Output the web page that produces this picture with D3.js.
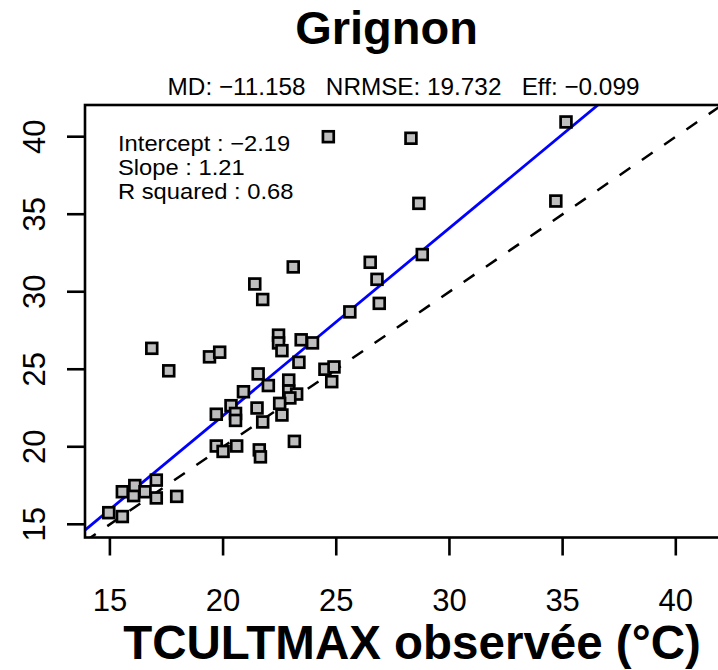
<!DOCTYPE html>
<html>
<head>
<meta charset="utf-8">
<script src="https://d3js.org/d3.v7.min.js"></script>
<style>
body, html {
    margin: 0;
    padding: 0;
    background: #fff;
    font-family: "Liberation Sans", Arial, sans-serif;
}
</style>
</head>
<body>
<div id="chart"></div>
<script>

var observed = [24.65, 28.3, 35.15, 28.65, 34.7, 28.8, 23.1, 21.4, 21.75, 26.5,
                26.8, 26.9, 25.6, 16.85, 17.6, 19.4, 19.85, 22.45, 22.45, 22.6,
                23.45, 23.95, 23.35, 24.5, 24.9, 24.8, 21.55, 22.0, 22.9, 22.9,
                23.25, 22.95, 20.9, 20.35, 20.55, 20.55, 19.7, 21.5, 22.5, 22.6,
                21.75, 23.15, 19.7, 20.0, 20.6, 21.6, 21.65, 15.55, 16.05, 16.1,
                16.55, 17.05, 17.05, 17.95, 14.95, 15.55];
var simulated = [40.0, 39.9, 40.95, 35.7, 35.85, 32.4, 31.6, 30.5, 29.5, 31.9,
                 30.8, 29.25, 28.7, 26.35, 24.9, 25.8, 26.1, 27.2, 26.7, 26.2,
                 26.9, 26.7, 25.45, 25.0, 25.15, 24.2, 24.7, 23.95, 24.3, 23.6,
                 23.4, 23.15, 23.55, 22.65, 22.15, 21.7, 22.1, 22.5, 22.8, 22.05,
                 21.6, 20.35, 20.05, 19.7, 20.05, 19.8, 19.35, 17.1, 16.85, 17.5,
                 17.1, 17.85, 16.7, 16.8, 15.75, 15.5];
var tickValues = [15, 20, 25, 30, 35, 40];
var title = "Grignon";
var stats = "MD: \u221211.158   NRMSE: 19.732   Eff: \u22120.099";
var regText = ["Intercept : \u22122.19", "Slope : 1.21", "R squared : 0.68"];
var intercept = -2.19, slope = 1.21;
var xLabel = "TCULTMAX observée (°C)";

var width = 718, height = 670;
var box = {left: 85, right: 722, top: 105, bottom: 537.5};

var svg = d3.select("#chart").append("svg")
    .attr("width", width)
    .attr("height", height);

var x = d3.scaleLinear().domain([15, 40]).range([109.9, 675.8]);
var y = d3.scaleLinear().domain([15, 40]).range([524.3, 136.7]);

svg.append("clipPath").attr("id", "plotclip")
  .append("rect")
    .attr("x", box.left).attr("y", box.top)
    .attr("width", box.right - box.left).attr("height", box.bottom - box.top);

var plot = svg.append("g").attr("clip-path", "url(#plotclip)");

var x0 = x.invert(box.left), x1 = x.invert(box.right);

// 1:1 line
plot.append("line")
    .attr("x1", x(x0)).attr("y1", y(x0))
    .attr("x2", x(x1)).attr("y2", y(x1))
    .attr("stroke", "#000")
    .attr("stroke-width", 2.5)
    .attr("stroke-dasharray", "13,14");

// regression line
plot.append("line")
    .attr("x1", x(x0)).attr("y1", y(intercept + slope * x0))
    .attr("x2", x(x1)).attr("y2", y(intercept + slope * x1))
    .attr("stroke", "#0000ff")
    .attr("stroke-width", 2.8);

var pts = observed.map(function(d, i) { return [d, simulated[i]]; });
var s = 10.8;
plot.selectAll("rect.pt")
    .data(pts)
  .enter().append("rect")
    .attr("class", "pt")
    .attr("x", function(d) { return x(d[0]) - s / 2; })
    .attr("y", function(d) { return y(d[1]) - s / 2; })
    .attr("width", s).attr("height", s)
    .attr("fill", "#bebebe")
    .attr("stroke", "#000")
    .attr("stroke-width", 2.7);

// plot box
svg.append("rect")
    .attr("x", box.left).attr("y", box.top)
    .attr("width", box.right - box.left).attr("height", box.bottom - box.top)
    .attr("fill", "none")
    .attr("stroke", "#000")
    .attr("stroke-width", 2.6);

// x axis
var xAxis = svg.append("g");
xAxis.selectAll("line")
    .data(tickValues)
  .enter().append("line")
    .attr("x1", function(d) { return x(d); }).attr("x2", function(d) { return x(d); })
    .attr("y1", box.bottom).attr("y2", box.bottom + 18)
    .attr("stroke", "#000").attr("stroke-width", 2.6);
xAxis.selectAll("text")
    .data(tickValues)
  .enter().append("text")
    .attr("x", function(d) { return x(d); })
    .attr("y", 611)
    .attr("text-anchor", "middle")
    .attr("font-size", 31)
    .text(function(d) { return d; });

// y axis
var yAxis = svg.append("g");
yAxis.selectAll("line")
    .data(tickValues)
  .enter().append("line")
    .attr("x1", box.left - 18).attr("x2", box.left)
    .attr("y1", function(d) { return y(d); }).attr("y2", function(d) { return y(d); })
    .attr("stroke", "#000").attr("stroke-width", 2.6);
yAxis.selectAll("text")
    .data(tickValues)
  .enter().append("text")
    .attr("transform", function(d) { return "translate(45," + y(d) + ") rotate(-90)"; })
    .attr("text-anchor", "middle")
    .attr("font-size", 31)
    .text(function(d) { return d; });

// titles
svg.append("text")
    .attr("x", 386.5).attr("y", 44)
    .attr("text-anchor", "middle")
    .attr("font-size", 47)
    .attr("font-weight", "bold")
    .text(title);

svg.append("text")
    .attr("x", 403.5).attr("y", 95)
    .attr("text-anchor", "middle")
    .attr("font-size", 24.3)
    .style("white-space", "pre")
    .text(stats);

svg.append("text")
    .attr("x", 412).attr("y", 659)
    .attr("text-anchor", "middle")
    .attr("font-size", 47.5)
    .attr("font-weight", "bold")
    .text(xLabel);

// regression summary (slightly wide glyphs, as in the picture)
svg.append("g").selectAll("text")
    .data(regText)
  .enter().append("text")
    .attr("transform", function(d, i) { return "translate(118," + (150.5 + i * 24.4) + ") scale(1.12,1)"; })
    .attr("font-size", 21.2)
    .text(function(d) { return d; });

</script>
</body>
</html>
